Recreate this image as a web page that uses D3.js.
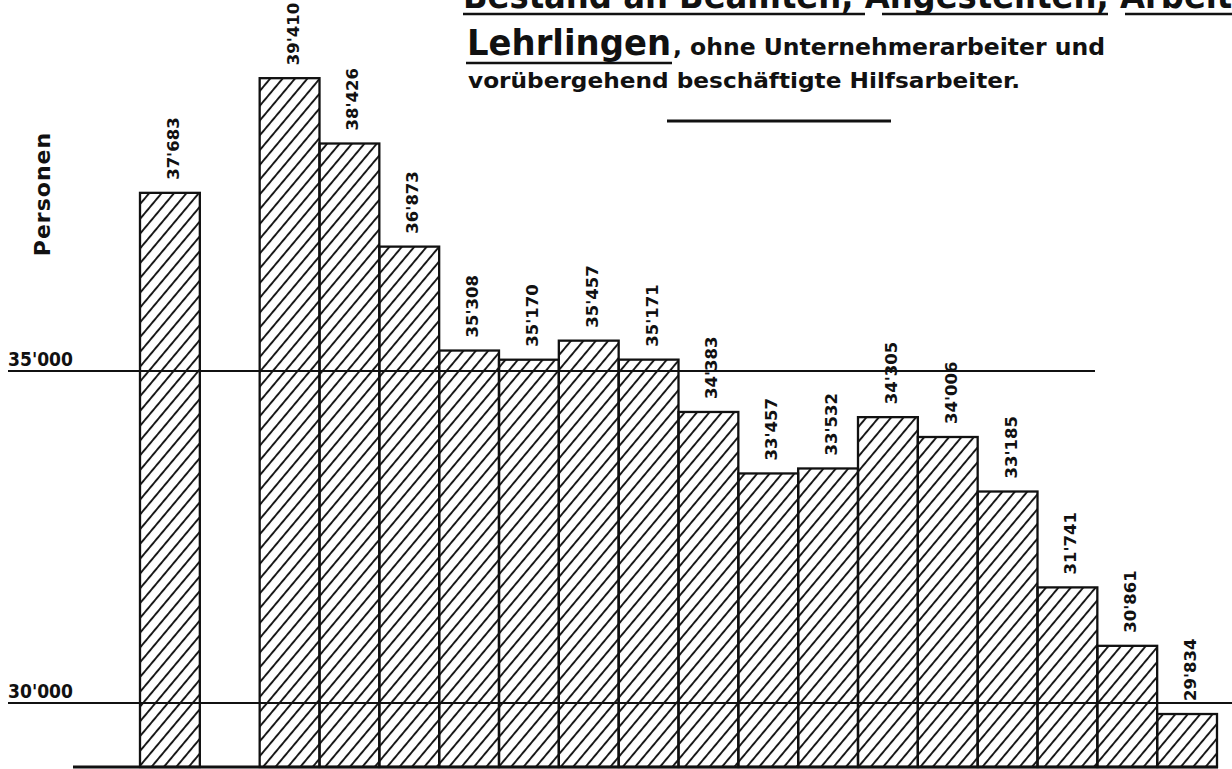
<!DOCTYPE html>
<html>
<head>
<meta charset="utf-8">
<script src="https://d3js.org/d3.v7.min.js"></script>
<style>
  body { margin: 0; background: #fff; }
  svg { display: block; }
  text { font-family: "DejaVu Sans", sans-serif; font-weight: bold; fill: #111; }
</style>
</head>
<body>
<div id="chart"></div>
<script>
// one value per slot, the second slot is left empty in the original
var values = [37683, null, 39410, 38426, 36873, 35308, 35170, 35457, 35171,
              34383, 33457, 33532, 34305, 34006, 33185, 31741, 30861, 29834];
var gridValues = [35000, 30000];
var gridLabels = ["35'000", "30'000"];
var yTitle = "Personen";
var titleLine1 = "Bestand an Beamten, Angestellten, Arbeitern";
var titleLine2 = ["Lehrlingen", ", ohne Unternehmerarbeiter und"];
var titleLine3 = "vorübergehend beschäftigte Hilfsarbeiter.";

var width = 1232, height = 769;
var svg = d3.select("#chart").append("svg")
    .attr("width", width).attr("height", height);

var defs = svg.append("defs");
defs.append("pattern")
    .attr("id", "hatch")
    .attr("patternUnits", "userSpaceOnUse")
    .attr("width", 9.5).attr("height", 9.5)
    .attr("patternTransform", "rotate(40)")
  .append("line")
    .attr("x1", 1).attr("y1", 0).attr("x2", 1).attr("y2", 9.5)
    .attr("stroke", "#111").attr("stroke-width", 1.9);

var x = d3.scaleBand()
    .domain(d3.range(values.length))
    .range([140, 1217])
    .padding(0);

var y = d3.scaleLinear()
    .domain([30000, 35000])
    .range([703, 371]);

var baseY = 767;

var fmt = d3.formatLocale({ decimal: ".", thousands: "'", grouping: [3], currency: ["", ""] }).format(",");

var data = values.map(function (v, i) { return { i: i, v: v }; })
    .filter(function (d) { return d.v != null; });

// bars
svg.append("g").selectAll("rect")
    .data(data)
    .enter().append("rect")
    .attr("x", function (d) { return x(d.i); })
    .attr("y", function (d) { return y(d.v); })
    .attr("width", x.bandwidth())
    .attr("height", function (d) { return baseY - y(d.v); })
    .attr("fill", "url(#hatch)")
    .attr("stroke", "#111")
    .attr("stroke-width", 2.3);

// value labels, rotated
svg.append("g").selectAll("text")
    .data(data)
    .enter().append("text")
    .attr("transform", function (d) {
        return "translate(" + (x(d.i) + x.bandwidth() / 2 + 9) + "," + (y(d.v) - 13) + ") rotate(-90)";
    })
    .attr("font-size", 16.5)
    .text(function (d) { return fmt(d.v); });

// horizontal reference lines
var gridEnd = [1095, 1232];
svg.append("g").selectAll("line")
    .data(gridValues)
    .enter().append("line")
    .attr("x1", 8)
    .attr("x2", function (d, i) { return gridEnd[i]; })
    .attr("y1", function (d) { return y(d); })
    .attr("y2", function (d) { return y(d); })
    .attr("stroke", "#111").attr("stroke-width", 2);

svg.append("g").selectAll("text")
    .data(gridValues)
    .enter().append("text")
    .attr("x", 8)
    .attr("y", function (d) { return y(d) - 5; })
    .attr("font-size", 20)
    .attr("textLength", 65)
    .attr("lengthAdjust", "spacingAndGlyphs")
    .text(function (d, i) { return gridLabels[i]; });

// baseline
svg.append("line")
    .attr("x1", 73).attr("x2", 1218)
    .attr("y1", baseY).attr("y2", baseY)
    .attr("stroke", "#111").attr("stroke-width", 3);

// y title
svg.append("text")
    .attr("transform", "translate(50,194) rotate(-90)")
    .attr("text-anchor", "middle")
    .attr("font-size", 22)
    .attr("letter-spacing", 1)
    .text(yTitle);

// title block (first line is cut by the top edge, as in the scan)
var title = svg.append("g");
title.append("text")
    .attr("x", 463).attr("y", 8)
    .attr("font-size", 36)
    .attr("textLength", 830)
    .attr("lengthAdjust", "spacingAndGlyphs")
    .text(titleLine1);
[[463, 865], [882, 1108], [1125, 1232]].forEach(function (u) {
    title.append("line")
        .attr("x1", u[0]).attr("x2", u[1])
        .attr("y1", 14).attr("y2", 14)
        .attr("stroke", "#111").attr("stroke-width", 2.5);
});

title.append("text")
    .attr("x", 467).attr("y", 55)
    .attr("font-size", 36)
    .attr("textLength", 204)
    .attr("lengthAdjust", "spacingAndGlyphs")
    .text(titleLine2[0]);
title.append("line")
    .attr("x1", 466).attr("x2", 672)
    .attr("y1", 63).attr("y2", 63)
    .attr("stroke", "#111").attr("stroke-width", 2.5);
title.append("text")
    .attr("x", 673).attr("y", 55)
    .attr("font-size", 23)
    .attr("textLength", 432)
    .attr("lengthAdjust", "spacingAndGlyphs")
    .text(titleLine2[1]);

title.append("text")
    .attr("x", 468).attr("y", 88)
    .attr("font-size", 22)
    .attr("textLength", 552)
    .attr("lengthAdjust", "spacingAndGlyphs")
    .text(titleLine3);

title.append("line")
    .attr("x1", 667).attr("x2", 891)
    .attr("y1", 121).attr("y2", 121)
    .attr("stroke", "#111").attr("stroke-width", 3);
</script>
</body>
</html>
